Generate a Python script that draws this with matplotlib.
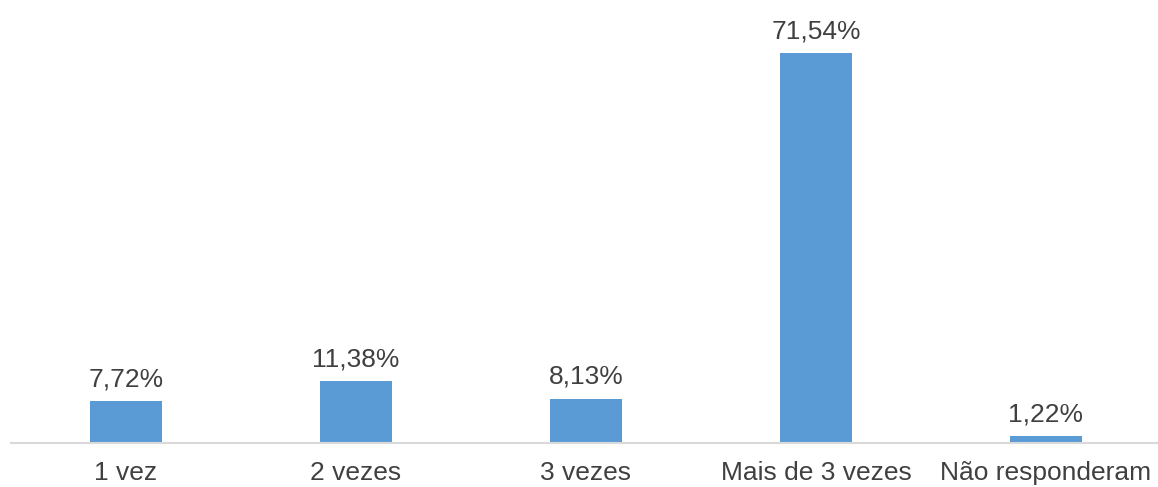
import matplotlib
matplotlib.use("Agg")
import matplotlib.pyplot as plt

categories = ["1 vez", "2 vezes", "3 vezes", "Mais de 3 vezes", "Não responderam"]
values = [7.72, 11.38, 8.13, 71.54, 1.22]
labels = ["7,72%", "11,38%", "8,13%", "71,54%", "1,22%"]

plt.rcParams['font.family'] = ['Liberation Sans', 'DejaVu Sans']

fig = plt.figure(figsize=(11.58, 4.87), dpi=100)
ax = fig.add_axes([11/1158, 44/487, 1150/1158, 436/487])
x = list(range(len(categories)))
bars = ax.bar(x, values, width=0.315, color="#5B9BD5")
ax.set_xlim(-0.5, len(categories) - 0.5)
ax.set_ylim(0, 80)
for xi, v, lab in zip(x, values, labels):
    ax.annotate(lab, (xi, v), xytext=(0, 7), textcoords="offset points",
                ha="center", va="bottom", fontsize=19, color="#404040")
ax.set_xticks(x)
ax.set_xticklabels(categories, fontsize=19, color="#404040")
ax.tick_params(axis="x", length=0, pad=13)
ax.set_yticks([])
for s in ["top", "right", "left"]:
    ax.spines[s].set_visible(False)
ax.spines["bottom"].set_color("#D9D9D9")
ax.spines["bottom"].set_linewidth(1.5)
fig.savefig("out.png", dpi=100)
